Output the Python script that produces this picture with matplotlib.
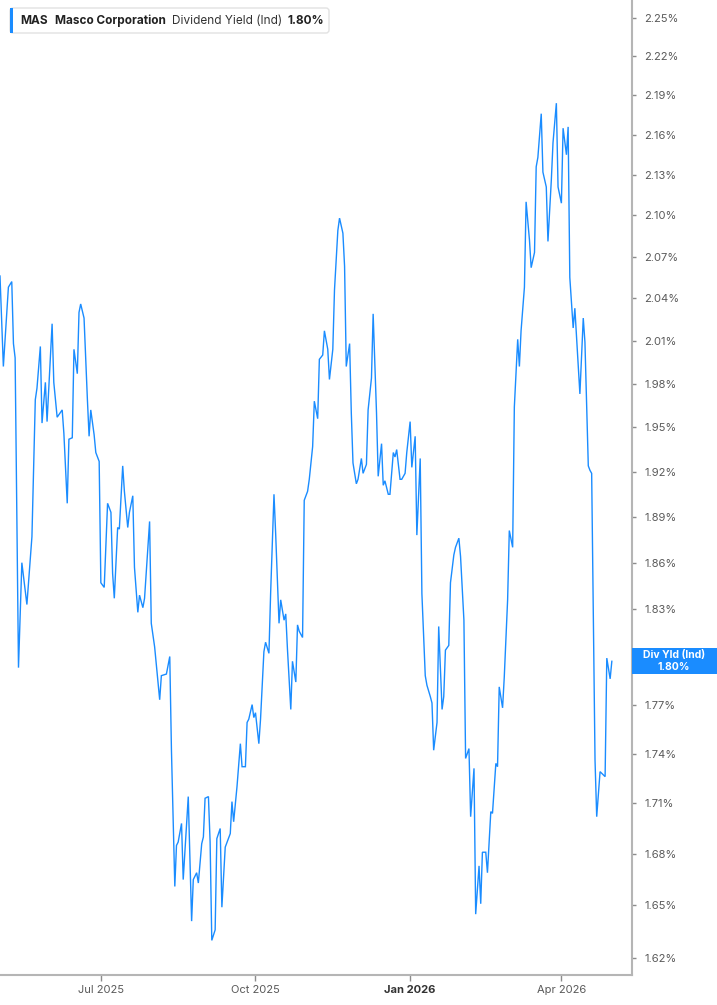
import matplotlib
matplotlib.use('Agg')
import matplotlib.pyplot as plt
import matplotlib.dates as mdates
from matplotlib.patches import Rectangle, FancyBboxPatch
from matplotlib.ticker import FixedLocator, FuncFormatter, NullLocator
from matplotlib.transforms import IdentityTransform
import pandas as pd

plt.rcParams['font.family'] = ['Inter', 'DejaVu Sans']

# MAS dividend yield (ind), in %
dates = [
    '2025-05-02', '2025-05-04', '2025-05-07', '2025-05-09', '2025-05-10', '2025-05-11', '2025-05-13', '2025-05-15',
    '2025-05-18', '2025-05-21', '2025-05-23', '2025-05-24', '2025-05-26', '2025-05-27', '2025-05-29', '2025-05-30',
    '2025-06-02', '2025-06-03', '2025-06-05', '2025-06-08', '2025-06-09', '2025-06-11', '2025-06-12', '2025-06-14',
    '2025-06-15', '2025-06-17', '2025-06-18', '2025-06-19', '2025-06-21', '2025-06-23', '2025-06-24', '2025-06-25',
    '2025-06-27', '2025-06-28', '2025-06-30',
    '2025-07-01', '2025-07-03', '2025-07-05', '2025-07-07', '2025-07-08', '2025-07-09', '2025-07-11', '2025-07-12',
    '2025-07-14', '2025-07-15', '2025-07-17', '2025-07-18', '2025-07-20', '2025-07-21', '2025-07-23', '2025-07-24',
    '2025-07-26', '2025-07-27', '2025-07-30', '2025-07-31',
    '2025-08-02', '2025-08-05', '2025-08-06', '2025-08-09', '2025-08-11', '2025-08-12', '2025-08-14', '2025-08-15',
    '2025-08-16', '2025-08-18', '2025-08-19', '2025-08-21', '2025-08-22', '2025-08-24', '2025-08-25', '2025-08-27',
    '2025-08-28', '2025-08-30', '2025-08-31',
    '2025-09-01', '2025-09-03', '2025-09-04', '2025-09-05', '2025-09-07', '2025-09-08', '2025-09-10', '2025-09-11',
    '2025-09-13', '2025-09-16', '2025-09-17', '2025-09-18', '2025-09-20', '2025-09-22', '2025-09-23', '2025-09-25',
    '2025-09-26', '2025-09-27', '2025-09-29', '2025-09-30',
    '2025-10-01', '2025-10-03', '2025-10-04', '2025-10-06', '2025-10-07', '2025-10-09', '2025-10-10', '2025-10-12',
    '2025-10-13', '2025-10-15', '2025-10-16', '2025-10-18', '2025-10-19', '2025-10-20', '2025-10-22', '2025-10-23',
    '2025-10-25', '2025-10-26', '2025-10-27', '2025-10-29', '2025-10-30',
    '2025-11-01', '2025-11-02', '2025-11-04', '2025-11-05', '2025-11-07', '2025-11-08', '2025-11-10', '2025-11-11',
    '2025-11-13', '2025-11-14', '2025-11-16', '2025-11-17', '2025-11-19', '2025-11-20', '2025-11-22', '2025-11-23',
    '2025-11-24', '2025-11-26', '2025-11-27', '2025-11-28', '2025-11-30',
    '2025-12-01', '2025-12-03', '2025-12-04', '2025-12-06', '2025-12-07', '2025-12-09', '2025-12-10', '2025-12-12',
    '2025-12-13', '2025-12-15', '2025-12-16', '2025-12-17', '2025-12-19', '2025-12-20', '2025-12-22', '2025-12-23',
    '2025-12-24', '2025-12-26', '2025-12-27', '2025-12-29', '2025-12-30',
    '2026-01-01', '2026-01-02', '2026-01-04', '2026-01-05', '2026-01-07', '2026-01-08', '2026-01-10', '2026-01-11',
    '2026-01-13', '2026-01-14', '2026-01-15', '2026-01-17', '2026-01-18', '2026-01-20', '2026-01-21', '2026-01-22',
    '2026-01-24', '2026-01-25', '2026-01-27', '2026-01-28', '2026-01-30', '2026-01-31',
    '2026-02-02', '2026-02-03', '2026-02-05', '2026-02-06', '2026-02-08', '2026-02-09', '2026-02-11', '2026-02-12',
    '2026-02-13', '2026-02-15', '2026-02-16', '2026-02-18', '2026-02-19', '2026-02-21', '2026-02-22', '2026-02-23',
    '2026-02-25', '2026-02-26', '2026-02-28',
    '2026-03-01', '2026-03-03', '2026-03-04', '2026-03-06', '2026-03-07', '2026-03-08', '2026-03-10', '2026-03-11',
    '2026-03-13', '2026-03-14', '2026-03-16', '2026-03-17', '2026-03-18', '2026-03-20', '2026-03-21', '2026-03-23',
    '2026-03-24', '2026-03-26', '2026-03-27', '2026-03-29', '2026-03-30',
    '2026-04-01', '2026-04-02', '2026-04-04', '2026-04-05', '2026-04-06', '2026-04-08', '2026-04-09', '2026-04-11',
    '2026-04-12', '2026-04-14', '2026-04-15', '2026-04-17', '2026-04-18', '2026-04-19', '2026-04-21', '2026-04-22',
    '2026-04-24', '2026-04-25', '2026-04-27', '2026-04-28', '2026-04-30',
    '2026-05-01',
]

yield_pct = [
    2.056, 1.992, 2.048, 2.052, 2.008, 1.998, 1.793, 1.860, 1.833, 1.877, 1.969, 1.977, 2.006, 1.953, 1.981, 1.954,
    2.022, 1.981, 1.957, 1.962, 1.946, 1.899, 1.942, 1.943, 2.004, 1.987, 2.030, 2.036, 2.026, 1.969, 1.944, 1.962,
    1.945, 1.933, 1.927,
    1.847, 1.844, 1.899, 1.893, 1.853, 1.837, 1.883, 1.882, 1.924, 1.907, 1.883, 1.893, 1.904, 1.857, 1.828, 1.839,
    1.831, 1.837, 1.887, 1.821,
    1.806, 1.773, 1.788, 1.789, 1.800, 1.742, 1.661, 1.685, 1.687, 1.698, 1.665, 1.698, 1.714, 1.641, 1.665, 1.669,
    1.663, 1.686, 1.690,
    1.713, 1.714, 1.687, 1.630, 1.636, 1.689, 1.695, 1.649, 1.684, 1.692, 1.711, 1.699, 1.720, 1.746, 1.732, 1.732,
    1.759, 1.761, 1.770, 1.762,
    1.765, 1.746, 1.761, 1.803, 1.809, 1.802, 1.840, 1.905, 1.879, 1.821, 1.836, 1.823, 1.827, 1.805, 1.767, 1.797,
    1.784, 1.820, 1.816, 1.812, 1.901,
    1.907, 1.915, 1.937, 1.968, 1.956, 1.997, 2.000, 2.017, 2.004, 1.983, 2.004, 2.046, 2.089, 2.098, 2.087, 2.063,
    1.992, 2.008, 1.960, 1.926, 1.912,
    1.915, 1.929, 1.919, 1.925, 1.962, 1.984, 2.029, 1.960, 1.917, 1.939, 1.911, 1.914, 1.905, 1.905, 1.933, 1.930,
    1.935, 1.915, 1.915, 1.919, 1.933,
    1.954, 1.923, 1.944, 1.878, 1.929, 1.840, 1.788, 1.782, 1.775, 1.771, 1.742, 1.759, 1.819, 1.767, 1.775, 1.804,
    1.807, 1.847, 1.865, 1.870, 1.876, 1.864,
    1.823, 1.737, 1.743, 1.702, 1.731, 1.645, 1.673, 1.651, 1.681, 1.681, 1.669, 1.705, 1.704, 1.734, 1.732, 1.781,
    1.768, 1.787, 1.836,
    1.881, 1.870, 1.964, 2.011, 1.992, 2.017, 2.048, 2.110, 2.082, 2.062, 2.073, 2.136, 2.143, 2.176, 2.132, 2.121,
    2.081, 2.126, 2.154, 2.184, 2.121,
    2.109, 2.165, 2.145, 2.166, 2.055, 2.019, 2.033, 1.992, 1.973, 2.026, 2.009, 1.924, 1.921, 1.919, 1.736, 1.702,
    1.729, 1.728, 1.726, 1.799, 1.786,
    1.797,
]

y_ticks = [1.62, 1.65, 1.68, 1.71, 1.74, 1.77, 1.80, 1.83, 1.86, 1.89, 1.92, 1.95, 1.98, 2.01, 2.04, 2.07,
           2.10, 2.13, 2.16, 2.19, 2.22, 2.25]
x_tick_dates = ['2025-07-01', '2025-10-01', '2026-01-01', '2026-04-01']
x_tick_labels = ['Jul 2025', 'Oct 2025', 'Jan 2026', 'Apr 2026']

symbol = 'MAS'
company = 'Masco Corporation'
metric = 'Dividend Yield (Ind)'
short_metric = 'Div Yld (Ind)'

BLUE = '#1a8cff'
GREY = '#b5b5b5'
W, H = 717, 1005

fig = plt.figure(figsize=(W / 100, H / 100), dpi=100)
ax = fig.add_axes([0, 1 - 975 / H, 632 / W, 975 / H])

x = pd.to_datetime(dates)
ax.plot(x, yield_pct, color=BLUE, lw=1.0, solid_joinstyle='miter')

ax.set_yscale('log')
ax.set_ylim(1.6104, 2.2642)
ax.set_xlim(pd.Timestamp('2025-05-02'), pd.Timestamp('2026-05-13'))

last_label = f'{yield_pct[-1]:.2f}%'


def pct_fmt(v, pos):
    # the tick under the last-value tag is hidden by the tag itself
    lab = f'{v:.2f}%'
    return '' if lab == last_label else lab


# axes on the right, percent labels
ax.yaxis.tick_right()
ax.yaxis.set_major_locator(FixedLocator(y_ticks))
ax.yaxis.set_major_formatter(FuncFormatter(pct_fmt))
ax.yaxis.set_minor_locator(NullLocator())
ax.tick_params(axis='y', which='major', direction='out', length=3, width=1,
               color='#8c8c8c', labelcolor='#5a5a5a', labelsize=8, pad=6)

ax.xaxis.set_major_locator(FixedLocator(mdates.date2num(pd.to_datetime(x_tick_dates))))
ax.set_xticklabels(x_tick_labels)
ax.xaxis.set_minor_locator(NullLocator())
ax.tick_params(axis='x', direction='out', length=4, width=1, color='#8c8c8c',
               labelcolor='#5a5a5a', labelsize=8, pad=3)
for lab in ax.get_xticklabels():
    if lab.get_text().startswith('Jan'):
        lab.set_fontweight('bold')
        lab.set_color('#333333')

for s in ['left', 'top']:
    ax.spines[s].set_visible(False)
for s in ['right', 'bottom']:
    ax.spines[s].set_color(GREY)
    ax.spines[s].set_linewidth(1.5)

# last value tag on the right axis
last_y = ax.transData.transform((mdates.date2num(x[-1]), yield_pct[-1]))[1]
fig.add_artist(Rectangle((632, last_y - 13), 85, 26, transform=IdentityTransform(),
                         facecolor=BLUE, edgecolor='none', zorder=4))
fig.text(674 / W, (last_y + 6) / H, short_metric, ha='center', va='center',
         color='white', fontsize=7.5, fontweight='bold', zorder=5)
fig.text(674 / W, (last_y - 6) / H, last_label, ha='center', va='center',
         color='white', fontsize=7.5, fontweight='bold', zorder=5)

# legend box top left
fig.add_artist(FancyBboxPatch((10, H - 33), 319, 25, boxstyle='round,pad=0,rounding_size=3',
                              transform=IdentityTransform(), facecolor='white',
                              edgecolor='#e2e2e2', lw=1, zorder=4))
fig.add_artist(Rectangle((10, H - 33), 3.3, 25, transform=IdentityTransform(),
                         facecolor=BLUE, edgecolor='none', zorder=5))
ty = 1 - 21 / H
fig.text(20.5 / W, ty, symbol, fontsize=8.5, fontweight='bold', color='#222222', va='center', zorder=6)
fig.text(55 / W, ty, company, fontsize=8.5, fontweight='bold', color='#222222', va='center', zorder=6)
fig.text(172 / W, ty, metric, fontsize=8.5, color='#333333', va='center', zorder=6)
fig.text(287 / W, ty, last_label, fontsize=8.5, fontweight='bold', color='#222222',
         va='center', zorder=6)

fig.savefig('out.png', dpi=100)
